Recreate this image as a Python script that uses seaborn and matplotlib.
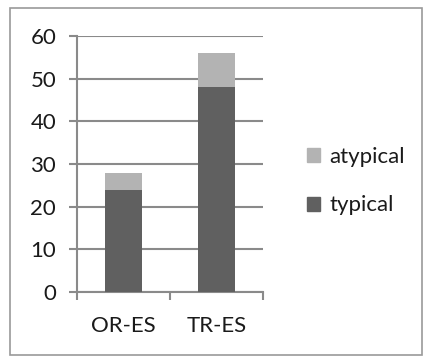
import matplotlib
matplotlib.use("Agg")
import matplotlib.pyplot as plt
import matplotlib.patches as mpatches
import pandas as pd
import seaborn as sns

categories = ["OR-ES", "TR-ES"]
typical = [24, 48]
atypical = [4, 8]

df = pd.DataFrame({"group": categories, "typical": typical, "atypical": atypical})
df["total"] = df["typical"] + df["atypical"]

sns.set_style("white")
plt.rcParams["font.family"] = ["Lato", "DejaVu Sans"]

dark = "#606060"
light = "#b3b3b3"
grid_col = "#8a8a8a"
txt = "#1a1a1a"

fig = plt.figure(figsize=(4.24, 3.56), dpi=100)
ax = fig.add_axes([77 / 424, 1 - 292 / 356, (263 - 77) / 424, (292 - 36) / 356])

# stacked bars: total drawn first, typical on top of it
sns.barplot(data=df, x="group", y="total", color=light, width=0.4, saturation=1,
            linewidth=0, ax=ax, zorder=3)
sns.barplot(data=df, x="group", y="typical", color=dark, width=0.4, saturation=1,
            linewidth=0, ax=ax, zorder=3)

ax.set_ylim(0, 60)
ax.set_xlim(-0.5, 1.5)
ax.set_yticks(range(0, 61, 10))
ax.yaxis.grid(True, color=grid_col, linewidth=1.5, zorder=0)
ax.set_axisbelow(True)
ax.set_xlabel("")
ax.set_ylabel("")

for s in ["top", "right"]:
    ax.spines[s].set_visible(False)
for s in ["left", "bottom"]:
    ax.spines[s].set_color(grid_col)
    ax.spines[s].set_linewidth(1.5)

ax.tick_params(axis="y", left=True, length=6, width=1.5, color=grid_col,
               labelsize=16, pad=9, labelcolor=txt)
ax.tick_params(axis="x", which="major", bottom=False, labelsize=16, pad=14, labelcolor=txt)
ax.set_xticks([-0.5, 0.5, 1.5], minor=True)
ax.tick_params(axis="x", which="minor", bottom=True, length=6, width=1.5, color=grid_col)

handles = [mpatches.Patch(color=light, label="atypical"),
           mpatches.Patch(color=dark, label="typical")]
fig.legend(handles=handles, loc="center left", bbox_to_anchor=(287 / 424, 1 - 181 / 356),
           frameon=False, fontsize=16, handlelength=0.6, handleheight=0.6,
           handletextpad=0.4, labelspacing=1.3, labelcolor=txt)

fig.patches.append(mpatches.Rectangle((10 / 424, 1 / 356), 412 / 424, 347 / 356,
                                      transform=fig.transFigure, fill=False,
                                      edgecolor="#9a9a9a", linewidth=1.2))

fig.savefig("out.png", dpi=100)
